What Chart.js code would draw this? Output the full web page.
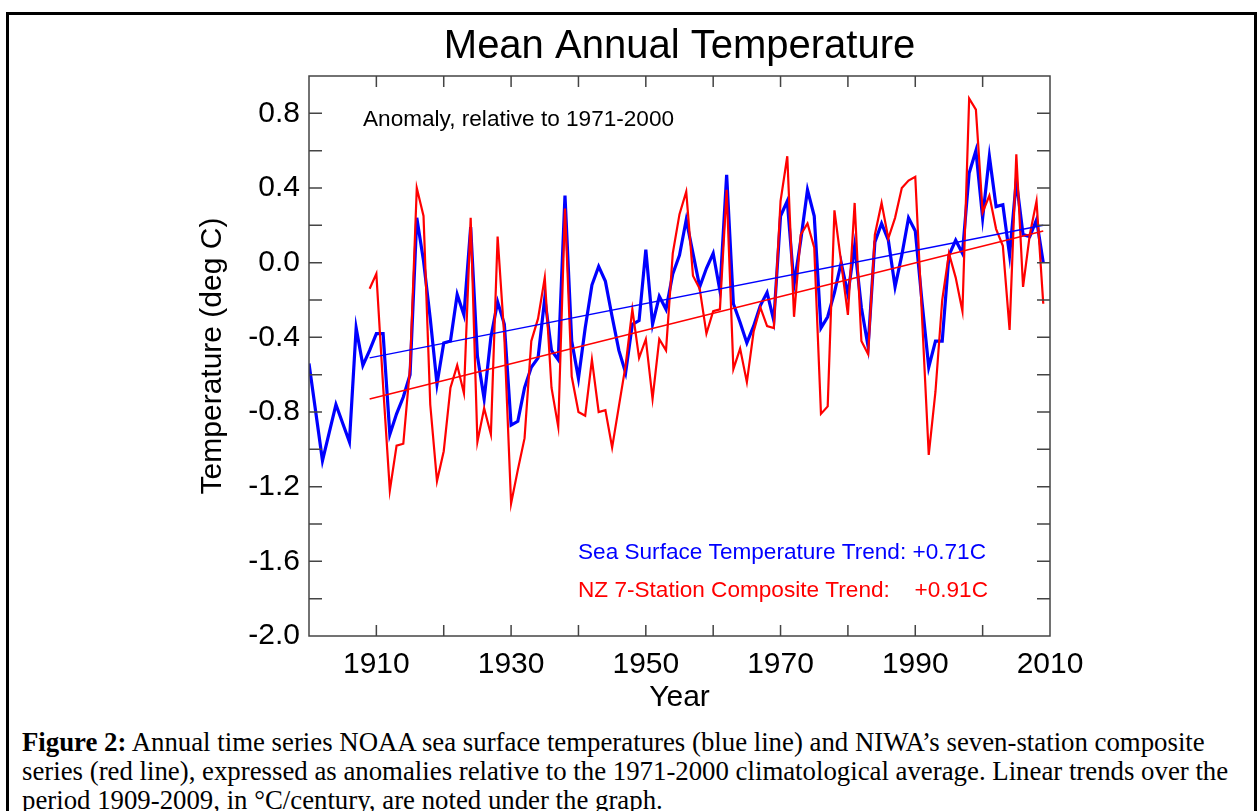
<!DOCTYPE html>
<html>
<head>
<meta charset="utf-8">
<title>Mean Annual Temperature</title>
<script src="https://cdn.jsdelivr.net/npm/chart.js@4.4.1/dist/chart.umd.min.js"></script>
<style>
  html, body { margin: 0; padding: 0; background: #fff; overflow: hidden; }
  #frame {
    position: absolute; left: 6px; top: 12px; width: 1245px; height: 820px;
    border-top: 3px solid #000; border-left: 3px solid #000; border-right: 3px solid #000;
  }
  #chart { position: absolute; left: 0; top: 0; }
  #caption {
    position: absolute; left: 22px; top: 728px; white-space: nowrap;
    font-family: 'Liberation Serif', 'Times New Roman', serif; font-size: 26.8px; line-height: 29px; color: #000;
  }
</style>
</head>
<body>
<div id="frame"></div>
<canvas id="chart" width="1257" height="720"></canvas>
<div id="caption"><b>Figure 2:</b> Annual time series NOAA sea surface temperatures (blue line) and NIWA’s seven-station composite<br>series (red line), expressed as anomalies relative to the 1971-2000 climatological average. Linear trends over the<br>period 1909-2009, in °C/century, are noted under the graph.</div>
<script>
// NOAA sea surface temperature anomaly, 1900-2009
const sstStart = 1900;
const sstValues = [
  -0.54, -0.80, -1.06, -0.91, -0.76, -0.86, -0.96, -0.35, -0.55, -0.47,
  -0.38, -0.38, -0.92, -0.81, -0.72, -0.60, 0.24, 0.01, -0.30, -0.65,
  -0.43, -0.42, -0.17, -0.28, 0.19, -0.50, -0.73, -0.40, -0.21, -0.33,
  -0.87, -0.85, -0.67, -0.56, -0.51, -0.19, -0.47, -0.52, 0.36, -0.42,
  -0.62, -0.35, -0.12, -0.02, -0.10, -0.29, -0.47, -0.59, -0.33, -0.31,
  0.07, -0.33, -0.18, -0.25, -0.06, 0.04, 0.23, 0.05, -0.13, -0.03,
  0.05, -0.15, 0.47, -0.22, -0.32, -0.43, -0.34, -0.23, -0.16, -0.31,
  0.25, 0.33, -0.12, 0.12, 0.39, 0.25, -0.35, -0.29, -0.16, 0.00,
  -0.17, 0.09, -0.24, -0.45, 0.11, 0.21, 0.12, -0.13, 0.04, 0.24,
  0.17, -0.21, -0.56, -0.42, -0.42, 0.04, 0.12, 0.05, 0.48, 0.60,
  0.24, 0.57, 0.30, 0.31, 0.04, 0.44, 0.15, 0.14, 0.23, 0.00
];

// NIWA 7-station composite anomaly, 1909-2009
const nzStart = 1909;
const nzValues = [
  -0.14,
  -0.06, -0.66, -1.22, -0.98, -0.97, -0.56, 0.40, 0.25, -0.76, -1.17,
  -1.01, -0.67, -0.55, -0.70, 0.24, -0.96, -0.78, -0.92, 0.14, -0.40,
  -1.29, -1.11, -0.94, -0.42, -0.30, -0.08, -0.67, -0.88, 0.29, -0.61,
  -0.80, -0.82, -0.52, -0.80, -0.79, -0.99, -0.77, -0.55, -0.25, -0.51,
  -0.41, -0.73, -0.41, -0.47, 0.05, 0.26, 0.38, -0.07, -0.14, -0.38,
  -0.26, -0.25, 0.39, -0.57, -0.46, -0.64, -0.37, -0.24, -0.34, -0.35,
  0.33, 0.57, -0.29, 0.15, 0.21, 0.08, -0.81, -0.77, 0.28, 0.00,
  -0.28, 0.32, -0.42, -0.49, 0.15, 0.32, 0.13, 0.24, 0.40, 0.44,
  0.46, -0.29, -1.03, -0.69, -0.20, 0.05, -0.08, -0.26, 0.88, 0.82,
  0.27, 0.36, 0.18, 0.09, -0.36, 0.58, -0.13, 0.15, 0.33, -0.22
];

// linear trends 1909-2009 (end points)
const trendYears = [1909, 2009];
const sstTrend = [-0.51, 0.20];
const nzTrend = [-0.73, 0.17];

const trendLabels = ['Sea Surface Temperature Trend: +0.71C', 'NZ 7-Station Composite Trend:', '+0.91C'];

const FONT = "'Liberation Sans', Arial, Helvetica, sans-serif";

const toPoints = (start, vals) => vals.map((v, i) => ({ x: start + i, y: v }));
const trendPoints = vals => trendYears.map((yr, i) => ({ x: yr, y: vals[i] }));

// frame, inward ticks and the free text
const decor = {
    id: 'decor',
    afterDatasetsDraw(chart) {
        const { ctx, chartArea: a, scales: { x, y } } = chart;
        ctx.save();
        ctx.strokeStyle = '#444';
        ctx.lineWidth = 1.5;
        ctx.strokeRect(a.left, a.top, a.right - a.left, a.bottom - a.top);
        ctx.beginPath();
        x.ticks.forEach(t => {
            const px = x.getPixelForValue(t.value);
            if (px <= a.left + 1 || px >= a.right - 1) return;
            ctx.moveTo(px, a.bottom); ctx.lineTo(px, a.bottom - 11);
            ctx.moveTo(px, a.top); ctx.lineTo(px, a.top + 11);
        });
        y.ticks.forEach(t => {
            const py = y.getPixelForValue(t.value);
            if (py <= a.top + 1 || py >= a.bottom - 1) return;
            ctx.moveTo(a.left, py); ctx.lineTo(a.left + 13, py);
            ctx.moveTo(a.right, py); ctx.lineTo(a.right - 13, py);
        });
        ctx.stroke();

        ctx.fillStyle = '#000';
        ctx.textBaseline = 'middle';
        ctx.textAlign = 'center';
        ctx.font = '40px ' + FONT;
        ctx.fillText('Mean Annual Temperature', (a.left + a.right) / 2, 47);

        ctx.textAlign = 'left';
        ctx.font = '22.6px ' + FONT;
        ctx.fillText('Anomaly, relative to 1971-2000', a.left + 54, 120);

        ctx.fillStyle = '#0000ff';
        ctx.fillText(trendLabels[0], a.left + 269, 553);
        ctx.fillStyle = '#ff0000';
        ctx.fillText(trendLabels[1], a.left + 269, 591);
        ctx.textAlign = 'right';
        ctx.fillText(trendLabels[2], a.left + 679, 591);
        ctx.restore();
    }
};

new Chart(document.getElementById('chart'), {
    type: 'line',
    data: {
        datasets: [
            { data: trendPoints(sstTrend), borderColor: '#0000ff', borderWidth: 1.5, order: 0 },
            { data: trendPoints(nzTrend), borderColor: '#ff0000', borderWidth: 1.5, order: 0 },
            { data: toPoints(nzStart, nzValues), borderColor: '#ff0000', borderWidth: 2.2, order: 1 },
            { data: toPoints(sstStart, sstValues), borderColor: '#0000ff', borderWidth: 3.2, order: 2 }
        ]
    },
    options: {
        responsive: false,
        animation: false,
        devicePixelRatio: 1,
        layout: { padding: { top: 76, right: 207, bottom: 4, left: 190 } },
        elements: { point: { radius: 0 }, line: { tension: 0, fill: false } },
        plugins: { legend: { display: false }, tooltip: { enabled: false } },
        scales: {
            x: {
                type: 'linear',
                min: 1900,
                max: 2010,
                grid: { display: false },
                border: { display: false },
                ticks: {
                    stepSize: 10,
                    autoSkip: false,
                    padding: 3,
                    maxRotation: 0,
                    color: '#000',
                    font: { size: 30, family: FONT },
                    callback: v => ((v - 1910) % 20 === 0 ? String(v) : '')
                },
                title: { display: true, text: 'Year', color: '#000', padding: 0, font: { size: 30, family: FONT } },
                afterFit: s => { s.height = 80; }
            },
            y: {
                min: -2.0,
                max: 1.0,
                grid: { display: false },
                border: { display: false },
                ticks: {
                    stepSize: 0.2,
                    autoSkip: false,
                    padding: 1,
                    color: '#000',
                    font: { size: 30, family: FONT },
                    callback: v => (Math.round(v * 10) % 4 === 0 ? v.toFixed(1) : '')
                },
                title: { display: true, text: 'Temperature (deg C)', color: '#000', padding: { top: 5, bottom: 0 }, font: { size: 30, family: FONT } },
                afterFit: s => { s.width = 119; }
            }
        }
    },
    plugins: [decor]
});
</script>
</body>
</html>
